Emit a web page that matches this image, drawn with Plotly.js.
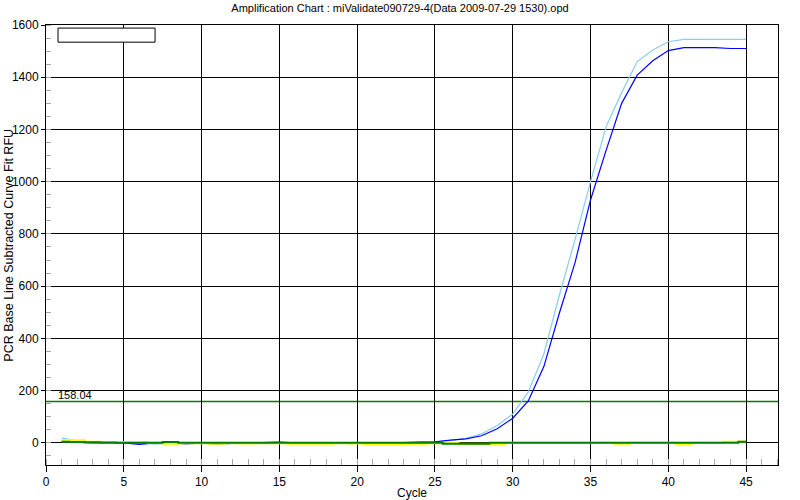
<!DOCTYPE html>
<html>
<head>
<meta charset="utf-8">
<script src="https://cdn.plot.ly/plotly-3.0.1.min.js"></script>
<style>html,body{margin:0;padding:0;background:#fff;}#chart{width:800px;height:500px;}</style>
</head>
<body>
<div id="chart"></div>
<script>
const cycles = [1,2,3,4,5,6,7,8,9,10,11,12,13,14,15,16,17,18,19,20,21,22,23,24,25,26,27,28,29,30,31,32,33,34,35,36,37,38,39,40,41,42,43,44,45];

// amplifying wells
const wellLightBlue = [19,8,3,1,0,0,-5,-1,0,0,-1,0,0,0,0,0,0,0,0,0,0,0,1,2,4,9,17,34,66,110,195,340,566,777,1000,1210,1341,1460,1504,1536,1545,1545,1545,1545,1545];
const wellBlue = [3,1,0,0,0,-6,0,0,-4,-1,-5,-2,0,3,3,0,0,0,2,0,0,0,1,3,4,10,15,27,54,94,160,292,497,689,930,1120,1300,1408,1463,1502,1513,1513,1513,1510,1510];

// flat wells
const wellYellow = [11,10,4,3,3,3,0,-4,-2,-2,-4,-2,-3,-2,-2,-4,-4,-4,-2,-3,-5,-5,-5,-4,-2,-1,-4,-4,-5,0,0,0,0,0,0,0,-4,0,0,0,-5,0,0,4,4];
const wellGreen = [4,3,2,1,0,0,0,3,0,0,0,0,0,0,0,0,0,0,0,0,0,0,0,0,0,-4,-4,-4,0,0,0,0,0,0,0,0,0,0,0,0,0,0,0,0,4];

const threshold = 158.04;
const xTickVals = [0,5,10,15,20,25,30,35,40,45];
const yTickVals = [0,200,400,600,800,1000,1200,1400,1600];

const FONT = 'Liberation Sans, Arial, sans-serif';

const traces = [
  {x: cycles, y: wellLightBlue, mode:'lines', line:{color:'#87CEEB', width:1.2}, name:'A1'},
  {x: cycles, y: wellBlue, mode:'lines', line:{color:'#0000FF', width:1.2}, name:'A2'},
  {x: cycles, y: wellYellow, mode:'lines', line:{color:'#FFFF00', width:2, shape:'hvh'}, name:'A3'},
  {x: cycles, y: wellGreen, mode:'lines', line:{color:'#008000', width:2, shape:'hvh'}, name:'A4'}
];

const layout = {
  width: 800, height: 500,
  margin: {l:46, r:22, t:25, b:35},
  paper_bgcolor:'#ffffff', plot_bgcolor:'#ffffff',
  showlegend:false,
  font:{family:FONT, size:12, color:'#000'},
  title:{text:'Amplification Chart : miValidate090729-4(Data 2009-07-29 1530).opd', font:{family:FONT, size:11, color:'#000'}, x:0.5, xanchor:'center', y:0.983, yanchor:'middle'},
  xaxis:{
    range:[0,47.05], tickvals:xTickVals, ticks:'outside', ticklen:6, tickcolor:'#000',
    showgrid:true, gridcolor:'#000', gridwidth:1, zeroline:false,
    showline:true, linecolor:'#000', linewidth:1, mirror:true,
    minor:{dtick:1, tick0:0, ticks:'inside', ticklen:6, tickcolor:'#a8a8a8', showgrid:false},
    tickfont:{family:FONT, size:12},
    title:{text:'Cycle', font:{family:FONT, size:12}, standoff:2}
  },
  yaxis:{
    range:[-85,1600], tickvals:yTickVals, ticks:'outside', ticklen:4, tickcolor:'#000',
    showgrid:true, gridcolor:'#000', gridwidth:1, zeroline:false,
    showline:true, linecolor:'#000', linewidth:1, mirror:true,
    minor:{dtick:50, tick0:0, ticks:'inside', ticklen:5, tickcolor:'#a8a8a8', showgrid:false},
    tickfont:{family:FONT, size:12}
  },
  shapes:[
    {type:'line', xref:'paper', x0:0, x1:1, yref:'y', y0:threshold, y1:threshold, line:{color:'#008000', width:1.5}, layer:'below'},
    {type:'rect', xref:'paper', yref:'paper', x0:0.0164, x1:0.149, y0:0.961, y1:0.993, line:{color:'#000', width:1}, fillcolor:'#fff'}
  ],
  annotations:[
    {text: threshold.toFixed(2), xref:'paper', x:0.015, xanchor:'left', yref:'y', y:threshold, yanchor:'bottom', showarrow:false, font:{family:FONT, size:11, color:'#000'}, borderpad:0, yshift:0},
    {text:'PCR Base Line Subtracted Curve Fit RFU', xref:'paper', x:-0.051, xanchor:'center', yref:'paper', y:0.5, yanchor:'middle', textangle:-90, showarrow:false, font:{family:FONT, size:12.5, color:'#000'}}
  ]
};

Plotly.newPlot('chart', traces, layout, {displayModeBar:false, staticPlot:true});
</script>
</body>
</html>
